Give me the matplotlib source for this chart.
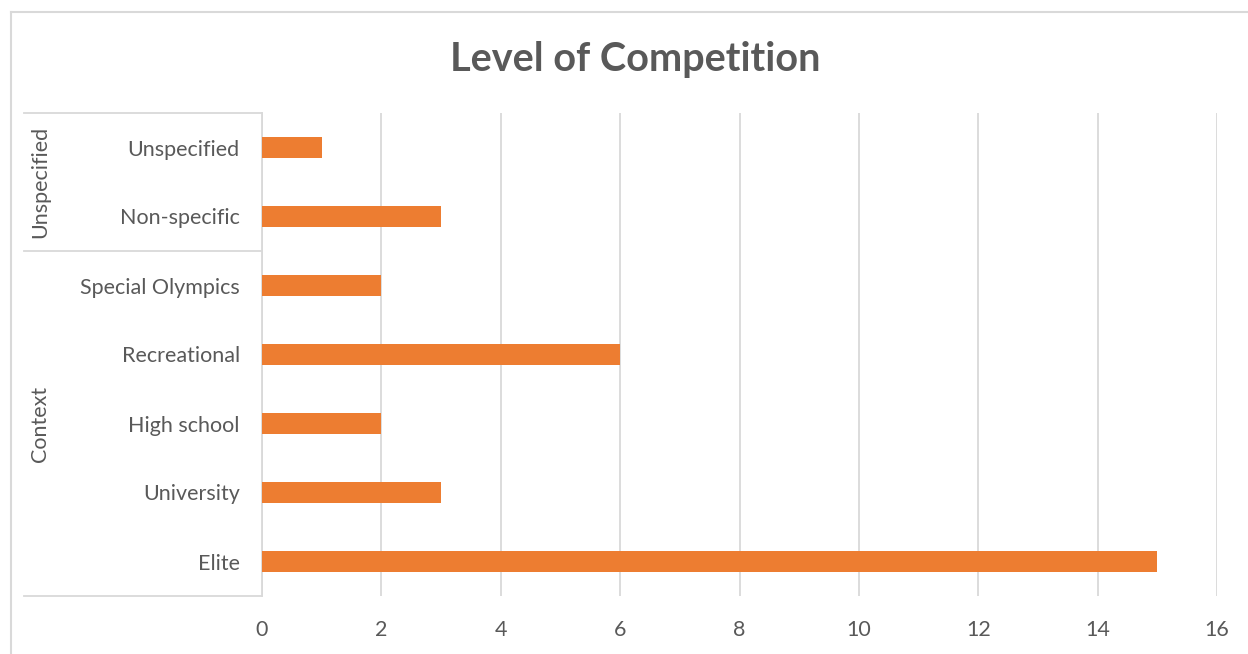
import matplotlib
matplotlib.use("Agg")
import matplotlib.pyplot as plt
import matplotlib.transforms as mtransforms
from matplotlib.lines import Line2D

# data, bottom to top
categories = ["Elite", "University", "High school", "Recreational",
              "Special Olympics", "Non-specific", "Unspecified"]
counts = [15, 3, 2, 6, 2, 3, 1]
groups = ["Context", "Unspecified"]
group_sizes = [5, 2]
x_ticks = [0, 2, 4, 6, 8, 10, 12, 14, 16]

text_color = "#595959"
line_color = "#d9d9d9"
bar_color = "#ED7D31"

plt.rcParams['font.family'] = ['Lato', 'DejaVu Sans']

W, H = 1248, 654
fig = plt.figure(figsize=(W / 100, H / 100), dpi=100)
ax = fig.add_axes([262 / W, 58 / H, 955 / W, 483 / H])

y = list(range(len(categories)))
ax.barh(y, counts, height=0.3, color=bar_color, zorder=3)

ax.set_xlim(0, 16)
ax.set_ylim(-0.5, len(categories) - 0.5)
ax.set_xticks(x_ticks)
ax.set_xticklabels([str(t) for t in x_ticks])
ax.set_yticks(y)
ax.set_yticklabels(categories)

ax.grid(axis='x', color=line_color, linewidth=1.3, zorder=0)
ax.tick_params(axis='both', length=0, labelsize=15.5, colors=text_color)
ax.tick_params(axis='y', pad=16)
ax.tick_params(axis='x', pad=17)

for side in ['top', 'right', 'bottom']:
    ax.spines[side].set_visible(False)
ax.spines['left'].set_color(line_color)
ax.spines['left'].set_linewidth(1.3)

# group separators and group labels on the left
trans = mtransforms.blended_transform_factory(ax.transAxes, ax.transData)
x0 = (24 - 262) / 955
start = -0.5
bounds = [start]
for g, n in zip(groups, group_sizes):
    end = start + n
    bounds.append(end)
    ax.text((40 - 262) / 955, (start + end) / 2, g, transform=trans,
            rotation=90, ha='center', va='center', fontsize=15.5,
            color=text_color)
    start = end
for b in bounds:
    ax.add_line(Line2D([x0, 0], [b, b], transform=trans, color=line_color,
                       linewidth=1.3, clip_on=False))

fig.suptitle("Level of Competition", x=635 / W, y=1 - 60 / H,
             va='center', fontsize=28.5, fontweight='bold', color=text_color)

# chart border
fig.add_artist(Line2D([11 / W, 11 / W], [0, 1 - 12 / H], transform=fig.transFigure,
                      color=line_color, linewidth=1.5))
fig.add_artist(Line2D([11 / W, 1], [1 - 12 / H, 1 - 12 / H], transform=fig.transFigure,
                      color=line_color, linewidth=1.5))

fig.savefig("out.png", dpi=100)
